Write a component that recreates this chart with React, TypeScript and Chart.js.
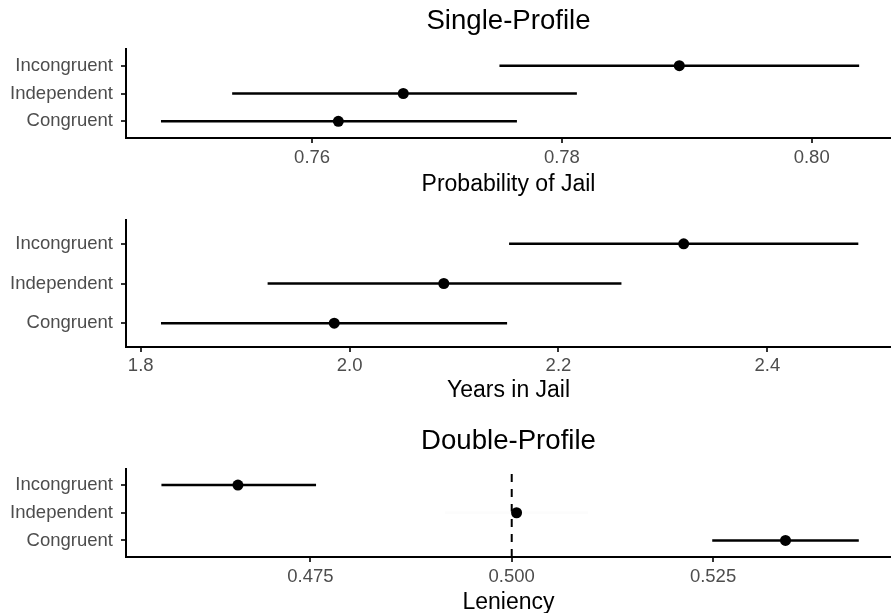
import React, { useEffect, useRef } from 'react';
import { Chart, registerables } from 'chart.js';

Chart.register(...registerables);

const FONT = "'Liberation Sans', Arial, Helvetica, sans-serif";

// Categories, top to bottom
const CATEGORIES = ['Incongruent', 'Independent', 'Congruent'];

// Single-Profile: Probability of Jail
const PROB_EST = [0.7894, 0.7673, 0.7621];
const PROB_LO = [0.775, 0.7536, 0.7479];
const PROB_HI = [0.8038, 0.7812, 0.7764];
const PROB_TICKS = [0.76, 0.78, 0.8];
const PROB_TICK_LABELS = ['0.76', '0.78', '0.80'];

// Single-Profile: Years in Jail
const YEARS_EST = [2.3199, 2.0902, 1.9853];
const YEARS_LO = [2.1527, 1.9215, 1.8194];
const YEARS_HI = [2.4871, 2.2603, 2.1508];
const YEARS_TICKS = [1.8, 2.0, 2.2, 2.4];
const YEARS_TICK_LABELS = ['1.8', '2.0', '2.2', '2.4'];

// Double-Profile: Leniency
const LEN_EST = [0.466, 0.5006, 0.534];
const LEN_LO = [0.4565, 0.4917, 0.5249];
const LEN_HI = [0.4757, 0.5095, 0.5431];
const LEN_TICKS = [0.475, 0.5, 0.525];
const LEN_TICK_LABELS = ['0.475', '0.500', '0.525'];
const LEN_REFERENCE = 0.5;

type Spec = {
  title?: string;
  axisTitle: string;
  est: number[];
  lo: number[];
  hi: number[];
  ticks: number[];
  tickLabels: string[];
  xMin: number;
  xMax: number;
  refLine?: number;
  ciColors?: string[];
  top: number;
  height: number;
  padTop: number;
  titlePad?: { top: number; bottom: number };
  axisHeight: number;
  tickPad: number;
  axisTitlePadBottom: number;
};

const PANELS: Spec[] = [
  {
    title: 'Single-Profile',
    axisTitle: 'Probability of Jail',
    est: PROB_EST,
    lo: PROB_LO,
    hi: PROB_HI,
    ticks: PROB_TICKS,
    tickLabels: PROB_TICK_LABELS,
    xMin: 0.7451,
    xMax: 0.80635,
    top: 0,
    height: 200,
    padTop: 0,
    titlePad: { top: 4.4, bottom: 11.5 },
    axisHeight: 62,
    tickPad: 3.5,
    axisTitlePadBottom: 2,
  },
  {
    axisTitle: 'Years in Jail',
    est: YEARS_EST,
    lo: YEARS_LO,
    hi: YEARS_HI,
    ticks: YEARS_TICKS,
    tickLabels: YEARS_TICK_LABELS,
    xMin: 1.7859,
    xMax: 2.5184,
    top: 200,
    height: 205,
    padTop: 20,
    axisHeight: 58,
    tickPad: 3,
    axisTitlePadBottom: 1,
  },
  {
    title: 'Double-Profile',
    axisTitle: 'Leniency',
    est: LEN_EST,
    lo: LEN_LO,
    hi: LEN_HI,
    ticks: LEN_TICKS,
    tickLabels: LEN_TICK_LABELS,
    xMin: 0.4521,
    xMax: 0.5471,
    refLine: LEN_REFERENCE,
    ciColors: ['#000000', '#fcfcfc', '#000000'],
    top: 405,
    height: 208,
    padTop: 0,
    titlePad: { top: 19.4, bottom: 11 },
    axisHeight: 56,
    tickPad: 4,
    axisTitlePadBottom: -3,
  },
];

function Panel({ spec }: { spec: Spec }) {
  const ref = useRef<HTMLCanvasElement>(null);

  useEffect(() => {
    if (!ref.current) return;
    const n = CATEGORIES.length;
    const yOf = (i: number) => n - i;
    const yMin = 0.4;
    const yMax = n + 0.6;

    const datasets: any[] = [];
    datasets.push({
      data: spec.est.map((v, i) => ({ x: v, y: yOf(i) })),
      pointRadius: 5.5,
      pointBackgroundColor: '#000000',
      pointBorderColor: '#000000',
      pointBorderWidth: 0,
      showLine: false,
      order: 0,
    });
    spec.lo.forEach((lo, i) => {
      datasets.push({
        data: [
          { x: lo, y: yOf(i) },
          { x: spec.hi[i], y: yOf(i) },
        ],
        showLine: true,
        borderColor: spec.ciColors ? spec.ciColors[i] : '#000000',
        borderWidth: 2.5,
        pointRadius: 0,
        order: 1,
      });
    });
    if (spec.refLine !== undefined) {
      datasets.push({
        data: [
          { x: spec.refLine, y: yMin },
          { x: spec.refLine, y: yMax },
        ],
        showLine: true,
        borderColor: '#000000',
        borderWidth: 2,
        borderDash: [8, 7],
        pointRadius: 0,
        order: 2,
      });
    }

    const tickGrid = {
      display: true,
      drawOnChartArea: false,
      drawTicks: true,
      tickLength: 5,
      color: '#333333',
      lineWidth: 2,
    };
    const border = { display: true, color: '#000000', width: 2 };

    const chart = new Chart(ref.current, {
      type: 'scatter',
      data: { datasets },
      options: {
        responsive: false,
        animation: false,
        devicePixelRatio: 1,
        events: [],
        layout: {
          autoPadding: false,
          padding: { top: spec.padTop, left: 0, right: 0, bottom: 0 },
        },
        plugins: {
          legend: { display: false },
          tooltip: { enabled: false },
          title: spec.title
            ? {
                display: true,
                text: spec.title,
                fullSize: false,
                color: '#000000',
                font: { family: FONT, size: 27.6, weight: 'normal' },
                padding: spec.titlePad,
              }
            : { display: false },
        },
        scales: {
          x: {
            type: 'linear',
            min: spec.xMin,
            max: spec.xMax,
            afterBuildTicks: (s: any) => {
              s.ticks = spec.ticks.map((v) => ({ value: v }));
            },
            afterFit: (s: any) => {
              s.height = spec.axisHeight;
            },
            ticks: {
              autoSkip: false,
              maxRotation: 0,
              padding: spec.tickPad,
              color: '#4d4d4d',
              font: { family: FONT, size: 18.5 },
              callback: (_v: any, i: number) => spec.tickLabels[i],
            },
            grid: tickGrid,
            border,
            title: {
              display: true,
              text: spec.axisTitle,
              color: '#000000',
              font: { family: FONT, size: 23 },
              padding: { top: 0, bottom: spec.axisTitlePadBottom },
            },
          },
          y: {
            type: 'linear',
            min: yMin,
            max: yMax,
            afterBuildTicks: (s: any) => {
              s.ticks = CATEGORIES.map((_c, i) => ({ value: yOf(i) }));
            },
            afterFit: (s: any) => {
              s.width = 126;
            },
            ticks: {
              autoSkip: false,
              padding: 8,
              color: '#4d4d4d',
              font: { family: FONT, size: 18.5 },
              callback: (v: any) => CATEGORIES[n - Number(v)],
            },
            grid: tickGrid,
            border,
          },
        },
      } as any,
    });
    return () => chart.destroy();
  }, [spec]);

  return (
    <canvas
      ref={ref}
      width={891}
      height={spec.height}
      style={{ position: 'absolute', left: 0, top: spec.top, width: 891, height: spec.height }}
    />
  );
}

export default function App() {
  return (
    <div
      style={{
        position: 'fixed',
        left: 0,
        top: 0,
        width: 891,
        height: 613,
        background: '#ffffff',
        overflow: 'hidden',
      }}
    >
      {PANELS.map((p, i) => (
        <Panel key={i} spec={p} />
      ))}
    </div>
  );
}
